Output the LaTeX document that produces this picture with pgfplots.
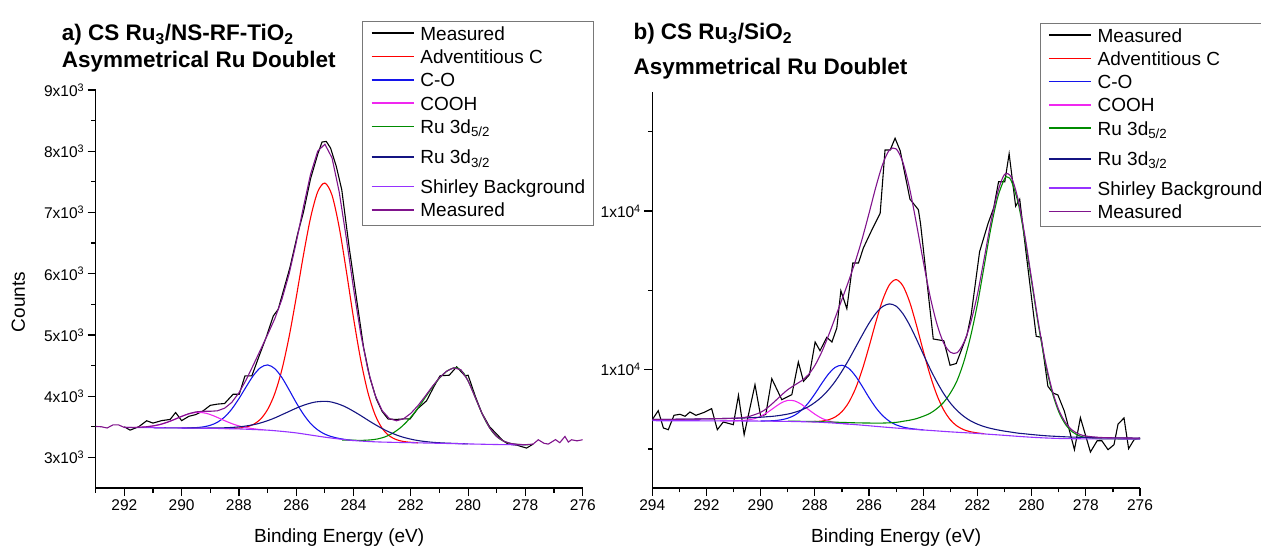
\documentclass[border=0pt]{standalone}
\usepackage{fontspec}
\setmainfont{Liberation Sans}
\usepackage{pgfplots}
\pgfplotsset{compat=1.18}

\definecolor{cRed}{RGB}{255,0,0}
\definecolor{cBlue}{RGB}{20,20,235}
\definecolor{cMag}{RGB}{240,40,240}
\definecolor{cGreen}{RGB}{0,140,0}
\definecolor{cNavy}{RGB}{20,20,130}
\definecolor{cShir}{RGB}{150,50,255}
\definecolor{cPurp}{RGB}{128,20,140}
\definecolor{cBox}{RGB}{120,120,120}

\pgfplotsset{
  xpsaxis/.style={
    scale only axis,
    x dir=reverse,
    scaled ticks=false,
    axis x line*=bottom,
    axis y line*=left,
    axis line style={line width=1.5bp, black},
    tick align=outside,
    major tick length=8bp,
    minor tick length=4.5bp,
    every tick/.style={black, line width=1.2bp},
    ticklabel style={font=\fontsize{15.5bp}{18bp}\selectfont},
    label style={font=\fontsize{19bp}{22bp}\selectfont},
    legend style={anchor=north west, draw=cBox, line width=1bp, fill=white,
      font=\fontsize{19bp}{22bp}\selectfont, inner xsep=8bp, inner ysep=2bp,
      row sep=0bp, column sep=6bp, cells={anchor=base west},
      nodes={inner sep=0bp, text height=17bp, text depth=6.3bp}},
    legend image code/.code={\draw[#1, line width=1.6bp] (0bp,7bp) -- (42bp,7bp);},
    every axis plot/.append style={line width=1.1bp},
  }
}

\begin{document}
\begin{tikzpicture}
\path[use as bounding box] (0,0) rectangle (1261bp,548bp);

%%%%%%%%%%%%%%%% Panel a %%%%%%%%%%%%%%%%
\begin{axis}[xpsaxis,
  at={(95.7bp,60bp)}, anchor=south west,
  width=487bp, height=398bp,
  xmin=276, xmax=293, ymin=2500, ymax=9000,
  xtick={276,278,280,282,284,286,288,290,292},
  xticklabels={276,278,280,282,284,286,288,290,292},
  minor xtick={277,279,281,283,285,287,289,291,293},
  ytick={3000,4000,5000,6000,7000,8000,9000},
  yticklabels={3x10\textsuperscript{3},4x10\textsuperscript{3},5x10\textsuperscript{3},6x10\textsuperscript{3},7x10\textsuperscript{3},8x10\textsuperscript{3},9x10\textsuperscript{3}},
  minor ytick={3500,4500,5500,6500,7500,8500},
  xlabel={Binding Energy (eV)},
  xlabel style={at={(axis description cs:0.5,-0.1256)}, anchor=center},
  ylabel={Counts},
  ylabel style={at={(axis description cs:-0.159,0.467)}, anchor=center},
  legend style={at={(axis description cs:0.5474,1.1741)}},
]
% Measured (raw)
\addplot[black] table {
292.0 3500
291.8 3445
291.5 3500
291.22 3598
291.0 3560
290.7 3600
290.4 3620
290.21 3733
290.0 3600
289.75 3670
289.5 3700
289.25 3760
289.0 3850
288.75 3870
288.5 3880
288.2 4032
287.99 4030
287.79 4330
287.55 4330
287.3 4650
287.03 4985
286.8 5310
286.63 5418
286.4 5800
286.22 6100
285.95 6650
285.75 7000
285.5 7550
285.25 7950
285.1 8150
284.95 8160
284.8 8050
284.6 7750
284.41 7370
284.15 6424
283.89 5576
283.65 4800
283.43 4304
283.2 3950
283.0 3750
282.79 3625
282.5 3620
282.2 3630
282.03 3625
281.75 3800
281.45 3924
281.2 4150
280.98 4332
280.66 4342
280.4 4479
280.11 4332
280.0 4342
279.75 4000
279.53 3733
279.25 3500
279.0 3380
278.8 3280
278.6 3217
278.3 3200
277.96 3152
277.73 3217
};
\addlegendentry{Measured}
% Adventitious C
\addplot[cRed, smooth] table {
288.5 3472
288.25 3473
288.0 3479
287.75 3496
287.5 3537
287.25 3622
287.0 3781
286.75 4040
286.5 4433
286.25 4967
286.0 5613
285.75 6298
285.5 6912
285.25 7337
285.0 7480
284.75 7281
284.5 6758
284.25 6041
284.0 5277
283.75 4596
283.5 4064
283.25 3699
283.0 3475
282.75 3351
282.5 3289
282.25 3259
282.0 3246
281.75 3239
};
\addlegendentry{Adventitious C}
% C-O
\addplot[cBlue, smooth] table {
290.0 3480
289.75 3482
289.5 3486
289.25 3498
289.0 3524
288.75 3574
288.5 3659
288.25 3789
288.0 3959
287.75 4151
287.5 4334
287.25 4465
287.0 4510
286.75 4450
286.5 4304
286.25 4104
286.0 3894
285.75 3706
285.5 3554
285.25 3449
285.0 3379
284.75 3337
284.5 3309
284.25 3290
284.0 3275
};
\addlegendentry{C-O}
% COOH
\addplot[cMag, smooth] table {
291.65 3489
291.4 3493
291.15 3503
290.9 3521
290.65 3550
290.4 3591
290.15 3639
289.9 3687
289.65 3723
289.4 3735
289.15 3721
288.9 3682
288.65 3631
288.4 3580
288.15 3535
287.9 3502
287.65 3478
287.4 3462
287.15 3451
};
\addlegendentry{COOH}
% Ru 3d5/2
\addplot[cGreen, smooth] table {
284.4 3283
284.15 3281
283.9 3279
283.65 3279
283.4 3286
283.15 3302
282.9 3335
282.65 3390
282.4 3470
282.15 3578
281.9 3714
281.65 3873
281.4 4044
281.15 4208
280.9 4344
280.65 4434
280.4 4464
280.15 4374
279.9 4148
279.65 3864
279.4 3605
279.15 3416
278.9 3302
278.65 3244
278.4 3218
278.15 3208
277.9 3205
};
\addlegendentry[text depth=13.5bp]{Ru 3d\textsubscript{5/2}}
% Ru 3d3/2
\addplot[cNavy, smooth] table {
291.0 3485
290.0 3481
289.35 3479
288.85 3480
288.35 3486
287.85 3506
287.35 3549
286.85 3625
286.35 3729
285.85 3833
285.35 3903
284.85 3911
284.35 3840
283.85 3712
283.35 3565
282.85 3435
282.35 3341
281.85 3283
281.35 3251
280.85 3235
280.0 3220
};
\addlegendentry[text depth=12.5bp]{Ru 3d\textsubscript{3/2}}
% Shirley
\addplot[cShir, smooth] table {
292 3488
291 3485
290 3480
289 3475
288.5 3470
288 3465
287.5 3455
287 3445
286.5 3425
286 3400
285.5 3365
285 3330
284.5 3300
284 3275
283.5 3260
283 3250
282 3240
281 3230
280 3220
279 3210
278 3205
};
\addlegendentry{Shirley Background}
% Measured (envelope)
\addplot[cPurp] table {
293.0 3505
292.8 3500
292.6 3480
292.4 3530
292.2 3530
292.0 3489
291.75 3489
291.5 3492
291.25 3499
291.0 3514
290.75 3537
290.5 3574
290.25 3620
290.0 3670
289.75 3714
289.5 3743
289.25 3753
289.0 3753
288.75 3761
288.5 3803
288.25 3898
288.0 4055
287.75 4264
287.5 4506
287.25 4754
287.0 5003
286.75 5263
286.5 5581
286.25 5993
286.0 6510
285.75 7086
285.5 7623
285.25 8001
285.0 8115
284.75 7891
284.5 7337
284.25 6578
284.0 5761
283.75 5022
283.5 4434
283.25 4020
283.0 3764
282.75 3634
282.5 3598
282.25 3631
282.0 3719
281.75 3846
281.5 3998
281.25 4157
281.0 4302
280.75 4409
280.5 4463
280.25 4431
280.0 4252
279.75 3979
279.5 3702
279.25 3482
279.0 3339
278.75 3262
278.5 3226
278.25 3212
278.0 3207
277.73 3217
277.55 3288
277.35 3230
277.2 3217
276.95 3290
276.8 3240
276.62 3342
276.5 3250
276.39 3288
276.2 3270
276.0 3288
};
\addlegendentry{Measured}
\end{axis}

%%%%%%%%%%%%%%%% Panel b %%%%%%%%%%%%%%%%
\begin{axis}[xpsaxis,
  at={(652.3bp,60bp)}, anchor=south west,
  width=487.7bp, height=396.3bp,
  xmin=276, xmax=294, ymin=6270, ymax=18764,
  xtick={276,278,280,282,284,286,288,290,292,294},
  xticklabels={276,278,280,282,284,286,288,290,292,294},
  minor xtick={277,279,281,283,285,287,289,291,293},
  ytick={10000,15000},
  yticklabels={1x10\textsuperscript{4},1x10\textsuperscript{4}},
  minor ytick={7500,12500,17500},
  xlabel={Binding Energy (eV)},
  xlabel style={at={(axis description cs:0.5,-0.1262)}, anchor=center},
  legend style={at={(axis description cs:0.794,1.1744)}},
]
\addplot[black] table {
294.0 8424
293.78 8707
293.59 8162
293.41 8108
293.2 8562
292.98 8594
292.79 8531
292.61 8666
292.39 8562
292.1 8650
291.81 8771
291.6 8108
291.38 8351
291.01 8266
290.82 9193
290.61 7951
290.21 9527
290.0 8531
289.81 8594
289.59 9716
289.22 9054
288.85 9212
288.61 10243
288.42 9634
288.2 9842
287.99 10873
287.81 10599
287.56 11021
287.37 10873
287.19 11315
287.04 12491
286.82 11923
286.6 13364
286.39 13364
286.21 13837
285.9 14400
285.59 14931
285.41 16927
285.22 16927
285.04 17296
284.85 16900
284.49 15376
284.18 15045
284.1 14603
283.63 10968
283.24 10911
283.01 10139
282.78 10195
282.39 11078
282.23 11737
281.92 13721
281.61 14603
281.4 15100
281.22 15925
280.99 15925
280.83 16807
280.59 15155
280.44 15376
280.21 13721
279.83 11053
279.65 11021
279.4 9477
279.21 9265
279.03 9202
278.79 8688
278.42 7478
278.2 8487
277.83 7405
277.58 7761
277.41 7761
277.18 7478
276.96 7635
276.81 8288
276.59 8477
276.42 7509
276.22 7793
276.0 7846
};
\addlegendentry{Measured}
\addplot[cRed, smooth] table {
288.25 8361
288.0 8366
287.75 8379
287.5 8420
287.25 8508
287.0 8679
286.75 8967
286.5 9405
286.25 10003
286.0 10726
285.75 11499
285.5 12196
285.25 12675
285.0 12840
284.75 12642
284.5 12131
284.25 11400
284.0 10594
283.75 9838
283.5 9207
283.25 8738
283.0 8419
282.75 8222
282.5 8107
282.25 8043
282.0 8006
281.75 7981
};
\addlegendentry{Adventitious C}
\addplot[cBlue, smooth] table {
290.0 8383
289.75 8385
289.5 8394
289.25 8419
289.0 8470
288.75 8562
288.5 8717
288.25 8944
288.0 9237
287.75 9561
287.5 9861
287.25 10073
287.0 10140
286.75 10043
286.5 9801
286.25 9472
286.0 9119
285.75 8803
285.5 8552
285.25 8375
285.0 8260
284.75 8191
284.5 8149
284.25 8122
284.0 8103
};
\addlegendentry{C-O}
\addplot[cMag, smooth] table {
291.5 8386
291.25 8386
291.0 8388
290.75 8394
290.5 8412
290.25 8452
290.0 8531
289.75 8653
289.5 8805
289.25 8949
289.0 9032
288.75 9017
288.5 8910
288.25 8753
288.0 8597
287.75 8470
287.5 8388
287.25 8337
287.0 8308
286.75 8286
};
\addlegendentry{COOH}
\addplot[cGreen, smooth] table {
289.0 8378
288.0 8366
287.5 8352
287.0 8338
286.5 8325
286.0 8318
285.5 8317
285.0 8339
284.75 8373
284.5 8407
284.25 8457
284.0 8532
283.75 8623
283.5 8771
283.25 8968
283.0 9263
282.75 9658
282.5 10256
282.25 11059
282.0 12065
281.75 13273
281.5 14480
281.25 15443
281.0 16023
280.9 16074
280.75 15950
280.5 15266
280.25 14135
280.0 12768
279.75 11404
279.5 10228
279.25 9315
279.0 8675
278.75 8274
278.5 8042
278.25 7921
278.0 7861
277.5 7824
277.0 7817
276.0 7815
};
\addlegendentry[text depth=13.5bp]{Ru 3d\textsubscript{5/2}}
\addplot[cNavy, smooth] table {
294 8431
293 8437
292 8450
291 8467
290.5 8481
290 8501
289.75 8518
289.5 8535
289.25 8564
289 8600
288.75 8654
288.5 8727
288.25 8827
288 8966
287.75 9139
287.5 9362
287.25 9632
287 9954
286.75 10312
286.5 10702
286.25 11093
286 11465
285.75 11775
285.5 11990
285.25 12074
285 12002
284.75 11764
284.5 11402
284.25 10962
284 10491
283.75 10035
283.5 9618
283.25 9252
283 8949
282.75 8711
282.5 8526
282.25 8385
282 8283
281.75 8205
281.5 8147
281.25 8101
281 8063
280.75 8031
280.5 7999
280.25 7978
280 7956
279.5 7918
279 7894
278.5 7875
278 7867
277 7852
276 7842
};
\addlegendentry[text depth=12.5bp]{Ru 3d\textsubscript{3/2}}
\addplot[cShir, smooth] table {
294 8392
293 8390
292 8388
291 8385
290 8380
289 8370
288.5 8360
288 8350
287.5 8328
287 8300
286.5 8268
286 8232
285.5 8195
285 8160
284.5 8130
284 8100
283.5 8070
283 8040
282.5 8015
282 7990
281.5 7960
281 7930
280.5 7898
280 7870
279.5 7848
279 7832
278.5 7824
278 7820
277 7817
276 7815
};
\addlegendentry{Shirley Background}
\addplot[cPurp, smooth] table {
294 8431
293 8437
292 8450
291 8470
290.5 8510
290 8655
289.75 8800
289.5 8984
289.25 9186
289 9370
288.75 9513
288.5 9646
288.25 9834
288 10132
287.75 10552
287.5 11071
287.25 11639
287 12219
286.75 12803
286.5 13429
286.25 14138
286 14932
285.75 15755
285.5 16470
285.25 16923
285 16961
284.75 16535
284.5 15699
284.25 14596
284 13420
283.75 12326
283.5 11456
283.25 10848
283 10551
282.75 10535
282.5 10859
282.25 11481
282 12374
281.75 13509
281.5 14667
281.25 15599
281 16156
280.75 16067
280.5 15367
280.25 14229
280 12854
279.75 11482
279.5 10298
279.25 9381
279 8737
278.75 8330
278.5 8093
278.25 7970
278 7908
277.5 7865
277 7852
276.5 7847
276 7842
};
\addlegendentry{Measured}
\end{axis}

% Titles
\begin{scope}[every node/.style={anchor=base west, inner sep=0pt, font=\bfseries\fontsize{22.5bp}{26bp}\selectfont}]
\node at (61.7bp,507bp) {a) CS Ru\textsubscript{3}/NS-RF-TiO\textsubscript{2}};
\node at (61.7bp,480bp) {Asymmetrical Ru Doublet};
\node at (633.3bp,508.2bp) {b) CS Ru\textsubscript{3}/SiO\textsubscript{2}};
\node at (633.3bp,473.2bp) {Asymmetrical Ru Doublet};
\end{scope}
\end{tikzpicture}
\end{document}
